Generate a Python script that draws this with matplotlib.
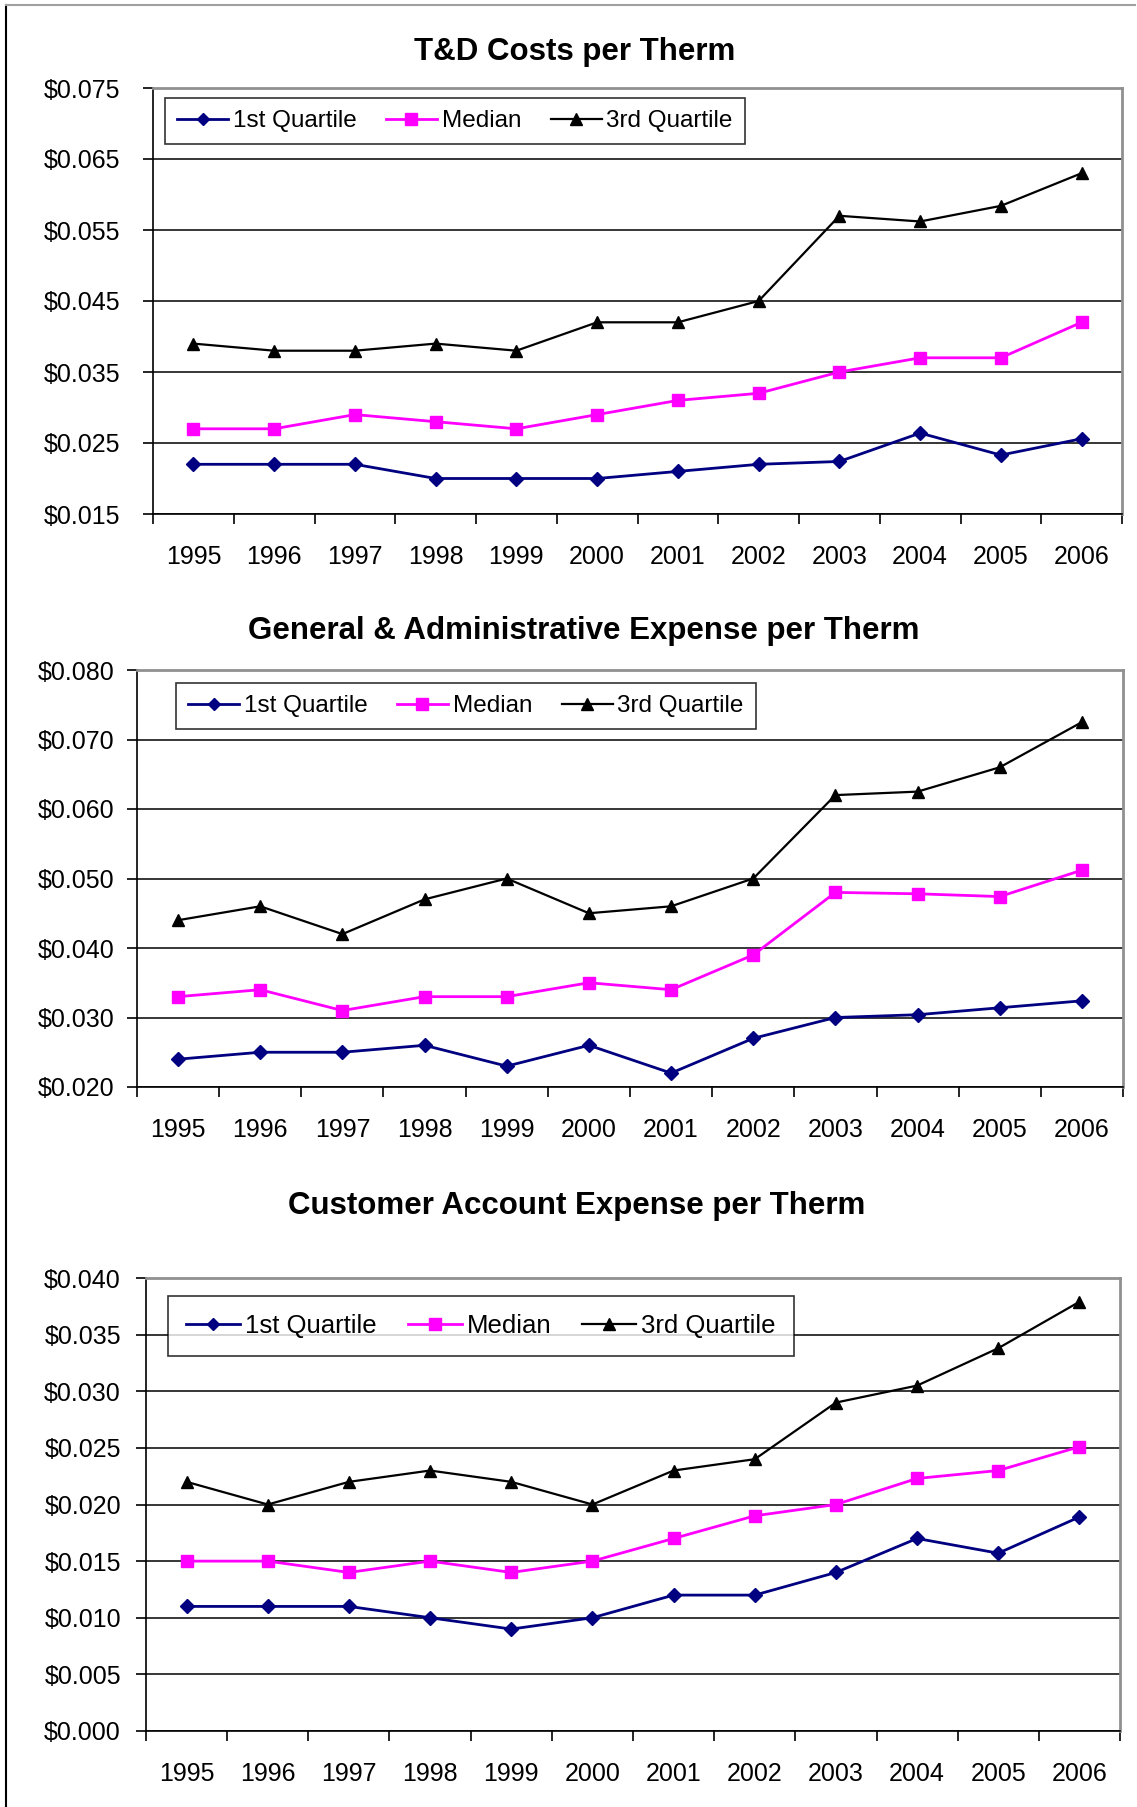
import numpy as np
import matplotlib
matplotlib.use("Agg")
from matplotlib import pyplot as plt
from matplotlib.lines import Line2D

plt.rcParams['font.family'] = ['Liberation Sans', 'DejaVu Sans']

years = ['1995', '1996', '1997', '1998', '1999', '2000',
         '2001', '2002', '2003', '2004', '2005', '2006']
series_names = ['1st Quartile', 'Median', '3rd Quartile']

# T&D Costs per Therm
td_q1 = [0.022, 0.022, 0.022, 0.020, 0.020, 0.020, 0.021, 0.022, 0.0224, 0.0264, 0.0233, 0.0256]
td_med = [0.027, 0.027, 0.029, 0.028, 0.027, 0.029, 0.031, 0.032, 0.035, 0.037, 0.037, 0.042]
td_q3 = [0.039, 0.038, 0.038, 0.039, 0.038, 0.042, 0.042, 0.045, 0.057, 0.0562, 0.0584, 0.063]

# General & Administrative Expense per Therm
ga_q1 = [0.024, 0.025, 0.025, 0.026, 0.023, 0.026, 0.022, 0.027, 0.030, 0.0304, 0.0314, 0.0324]
ga_med = [0.033, 0.034, 0.031, 0.033, 0.033, 0.035, 0.034, 0.039, 0.048, 0.0478, 0.0474, 0.0512]
ga_q3 = [0.044, 0.046, 0.042, 0.047, 0.050, 0.045, 0.046, 0.050, 0.062, 0.0625, 0.066, 0.0725]

# Customer Account Expense per Therm
ca_q1 = [0.011, 0.011, 0.011, 0.010, 0.009, 0.010, 0.012, 0.012, 0.014, 0.0170, 0.0157, 0.0189]
ca_med = [0.015, 0.015, 0.014, 0.015, 0.014, 0.015, 0.017, 0.019, 0.020, 0.0223, 0.0230, 0.0251]
ca_q3 = [0.022, 0.020, 0.022, 0.023, 0.022, 0.020, 0.023, 0.024, 0.029, 0.0305, 0.0338, 0.0379]

styles = [
    dict(color='#000080', marker='D', markersize=7, lw=2.0),
    dict(color='#FF00FF', marker='s', markersize=9, lw=2.0),
    dict(color='black', marker='^', markersize=9, lw=1.6),
]

W, H = 1137, 1807
fig = plt.figure(figsize=(W / 100, H / 100), dpi=100)


def px_axes(x0, x1, y0, y1):
    return fig.add_axes([x0 / W, 1 - y1 / H, (x1 - x0) / W, (y1 - y0) / H])


def draw(ax, data, ylim, ystep, title, title_xy, ypad, legend_box, leg_fs, leg_pad):
    x = np.arange(len(years))
    for vals, st, name in zip(data, styles, series_names):
        ax.plot(x, vals, label=name, clip_on=False, zorder=3, **st)
    ax.set_xlim(-0.5, len(years) - 0.5)
    ax.set_ylim(*ylim)
    ax.set_yticks(np.arange(ylim[0], ylim[1] + ystep / 2, ystep))
    ax.yaxis.set_major_formatter(plt.FuncFormatter(lambda v, p: f'${v:.3f}'))
    ax.set_xticks(x)
    ax.set_xticklabels(years)
    ax.set_xticks(np.arange(-0.5, len(years)), minor=True)
    ax.tick_params(axis='x', which='major', length=0, pad=22, labelsize=18)
    ax.tick_params(axis='x', which='minor', length=7, width=1.2, direction='out')
    ax.tick_params(axis='y', length=7, width=1.2, pad=ypad, labelsize=18)
    ax.grid(axis='y', color='black', lw=1.1, zorder=1)
    ax.set_axisbelow(True)
    for s in ['left', 'bottom']:
        ax.spines[s].set_color('black')
        ax.spines[s].set_linewidth(1.2)
    for s in ['top', 'right']:
        ax.spines[s].set_color('#909090')
        ax.spines[s].set_linewidth(2)
    handles = [Line2D([0], [0], color=st['color'], lw=2 if i < 2 else 1.6,
                      marker=st['marker'], markersize=6 if i == 0 else 8)
               for i, st in enumerate(styles)]
    leg = ax.legend(handles, series_names, ncol=3, loc='upper left',
                    bbox_to_anchor=legend_box, fontsize=leg_fs, frameon=True,
                    fancybox=False, handlelength=2.1, handletextpad=0.2,
                    columnspacing=1.2, borderpad=leg_pad, borderaxespad=0)
    leg.get_frame().set_edgecolor('black')
    leg.get_frame().set_linewidth(1.2)
    fig.text(title_xy[0] / W, 1 - title_xy[1] / H, title, ha='center', va='center',
             fontsize=22.5, fontweight='bold')


ax1 = px_axes(153, 1122, 88, 514)
draw(ax1, [td_q1, td_med, td_q3], (0.015, 0.075), 0.01, 'T&D Costs per Therm',
     (575, 52), 16.5, ((165 - 153) / 969, 1 - (98 - 88) / 426), 17.5, 0.5)

ax2 = px_axes(137, 1123, 670, 1087)
draw(ax2, [ga_q1, ga_med, ga_q3], (0.020, 0.080), 0.01,
     'General & Administrative Expense per Therm',
     (584, 631), 9.5, ((176 - 137) / 986, 1 - (683 - 670) / 417), 17.5, 0.5)

ax3 = px_axes(146, 1120, 1278, 1731)
draw(ax3, [ca_q1, ca_med, ca_q3], (0.0, 0.040), 0.005,
     'Customer Account Expense per Therm',
     (577, 1206), 11, ((168 - 146) / 974, 1 - (1296 - 1278) / 453), 18.5, 0.7)

# outer frame lines of the pasted charts
fig.add_artist(Line2D([6 / W, 6 / W], [0, 1 - 5 / H], color='black', lw=1.5))
fig.add_artist(Line2D([6 / W, 1135 / W], [1 - 5 / H, 1 - 5 / H], color='#A0A0A0', lw=1.5))

fig.savefig('out.png', dpi=100)
